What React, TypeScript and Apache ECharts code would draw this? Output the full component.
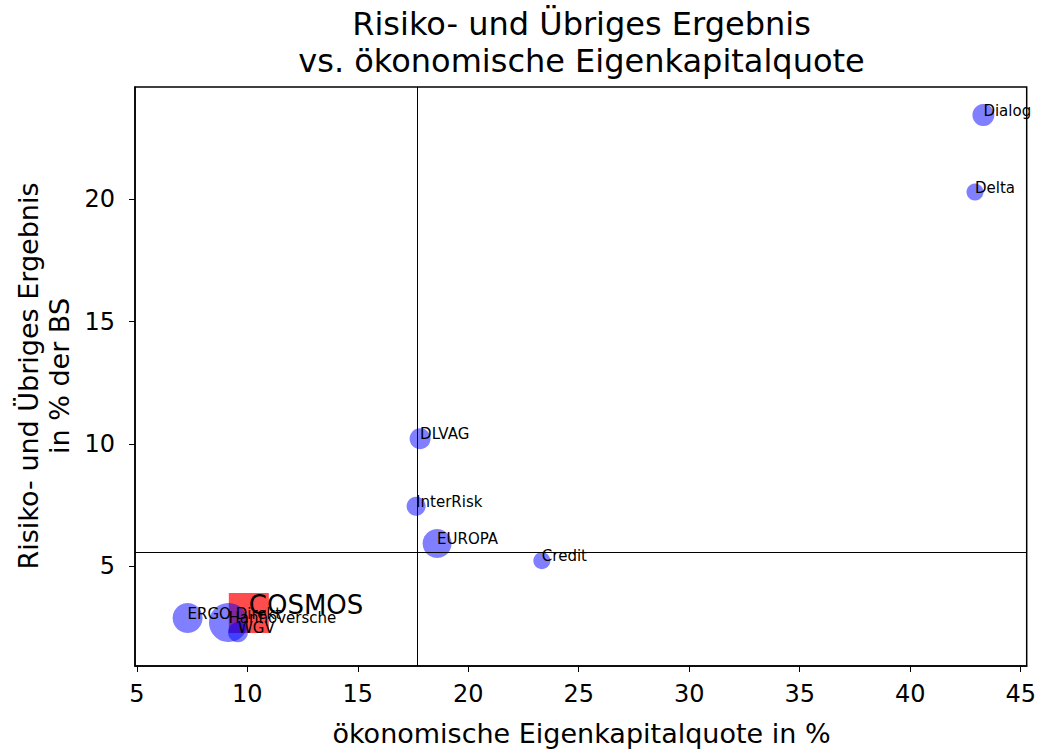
import React, { useEffect, useRef } from "react";
import * as echarts from "echarts";

const names = ["Dialog", "Delta", "DLVAG", "InterRisk", "EUROPA", "Credit", "ERGO Direkt", "Hannoversche", "WGV"];
const xValues = [43.31, 42.93, 17.82, 17.64, 18.59, 23.33, 7.30, 9.15, 9.58];
const yValues = [23.45, 20.30, 10.21, 7.45, 5.92, 5.22, 2.87, 2.69, 2.29];
const sizes = [22, 17, 21, 19, 29, 17, 30, 39, 20];

const highlightName = "COSMOS";
const highlightX = 10.07;
const highlightY = 3.08;

const refX = 17.68;
const refY = 5.58;

const xTicks = [5, 10, 15, 20, 25, 30, 35, 40, 45];
const yTicks = [5, 10, 15, 20];

const FONT = "DejaVu Sans";

export default function App() {
  const ref = useRef<HTMLDivElement>(null);
  useEffect(() => {
    if (!ref.current) return;
    const chart = echarts.init(ref.current, undefined, { renderer: "svg" });
    const bubbleData = names.map((n, i) => ({ name: n, value: [xValues[i], yValues[i], sizes[i]] }));
    chart.setOption({
      animation: false,
      backgroundColor: "#fff",
      grid: {
        left: 135,
        right: 11,
        top: 87,
        bottom: 85,
        show: true,
        borderColor: "#000",
        borderWidth: 1.5,
        backgroundColor: "transparent",
      },
      xAxis: {
        type: "value",
        min: 4.92,
        max: 45.27,
        splitLine: { show: false },
        axisLine: { show: true, onZero: false, lineStyle: { color: "#000", width: 1.5 } },
        axisTick: { show: true, inside: false, length: 6, lineStyle: { color: "#000", width: 1 }, customValues: xTicks },
        axisLabel: { customValues: xTicks, color: "#000", fontSize: 24, fontFamily: FONT, margin: 16 },
      },
      yAxis: {
        type: "value",
        min: 0.91,
        max: 24.6,
        splitLine: { show: false },
        axisLine: { show: true, onZero: false, lineStyle: { color: "#000", width: 1.5 } },
        axisTick: { show: true, inside: false, length: 6, lineStyle: { color: "#000", width: 1 }, customValues: yTicks },
        axisLabel: { customValues: yTicks, color: "#000", fontSize: 24, fontFamily: FONT, margin: 20 },
      },
      graphic: [
        {
          type: "text",
          x: 581.5,
          y: 42,
          style: {
            text: "Risiko- und Übriges Ergebnis\nvs. ökonomische Eigenkapitalquote",
            fill: "#000",
            font: `32px "${FONT}"`,
            textAlign: "center",
            textVerticalAlign: "middle",
            lineHeight: 37,
          },
        },
        {
          type: "text",
          x: 581.5,
          y: 733,
          style: {
            text: "ökonomische Eigenkapitalquote in %",
            fill: "#000",
            font: `27px "${FONT}"`,
            textAlign: "center",
            textVerticalAlign: "middle",
          },
        },
        {
          type: "text",
          x: 44,
          y: 376,
          rotation: Math.PI / 2,
          style: {
            text: "Risiko- und Übriges Ergebnis\nin % der BS",
            fill: "#000",
            font: `27px "${FONT}"`,
            textAlign: "center",
            textVerticalAlign: "middle",
            lineHeight: 31,
          },
        },
      ],
      series: [
        {
          type: "scatter",
          data: bubbleData,
          symbolSize: (v: number[]) => v[2],
          itemStyle: { color: "rgba(0,0,255,0.5)", opacity: 1 },
          label: {
            show: true,
            formatter: "{b}",
            position: ["50%", "50%"],
            align: "left",
            verticalAlign: "bottom",
            offset: [0, 3],
            color: "#000",
            textBorderWidth: 0,
            textBorderColor: "transparent",
            fontSize: 15,
            fontFamily: FONT,
          },
          emphasis: { disabled: true },
          markLine: {
            silent: true,
            symbol: "none",
            label: { show: false },
            lineStyle: { color: "#000", width: 1, type: "solid" },
            data: [{ xAxis: refX }, { yAxis: refY }],
          },
          z: 2,
        },
        {
          type: "scatter",
          data: [{ name: highlightName, value: [highlightX, highlightY] }],
          symbol: "rect",
          symbolSize: 40,
          itemStyle: { color: "rgba(255,0,0,0.7)", opacity: 1 },
          label: {
            show: true,
            formatter: "{b}",
            position: ["50%", "50%"],
            align: "left",
            verticalAlign: "bottom",
            offset: [0, 5],
            color: "#000",
            textBorderWidth: 0,
            textBorderColor: "transparent",
            fontSize: 26,
            fontFamily: FONT,
          },
          emphasis: { disabled: true },
          z: 1,
        },
      ],
    });
    return () => chart.dispose();
  }, []);
  return <div ref={ref} style={{ width: 1039, height: 751, position: "absolute", left: 0, top: 0 }} />;
}
